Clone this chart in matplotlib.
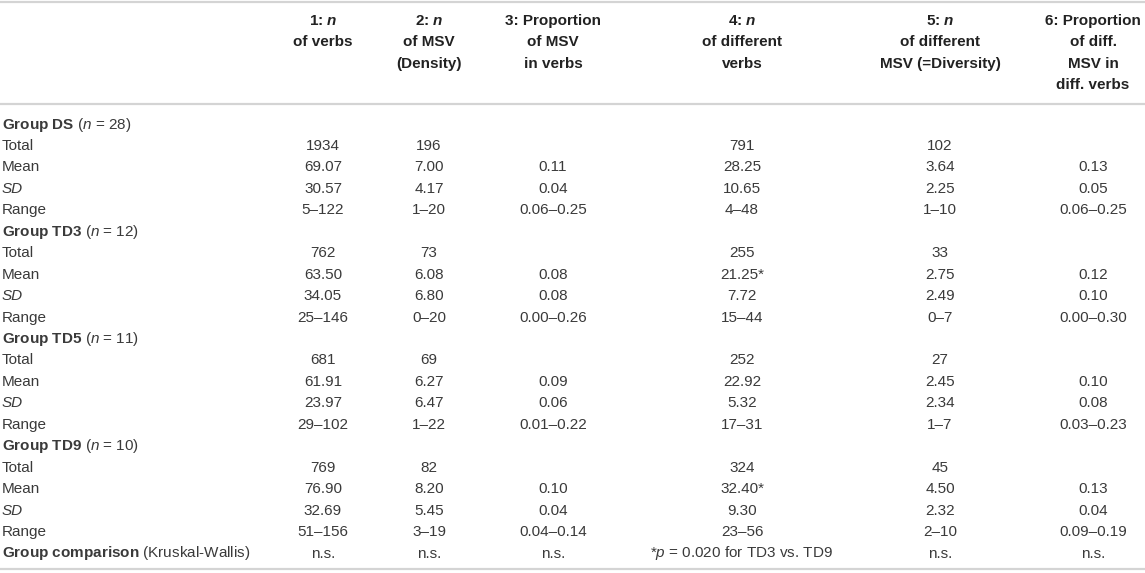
#table of verb / MSV counts per group, redrawn as a figure

import matplotlib.pyplot as plt

plt.rcParams['font.family'] = ['Liberation Sans', 'DejaVu Sans']
plt.rcParams['mathtext.fontset'] = 'custom'
plt.rcParams['mathtext.rm'] = 'Liberation Sans'
plt.rcParams['mathtext.it'] = 'Liberation Sans:italic'
plt.rcParams['mathtext.bf'] = 'Liberation Sans:bold'
plt.rcParams['mathtext.sf'] = 'Liberation Sans:bold:italic'   # used for bold italic n in the header

#column headers, one list of lines per column
headers = [
    [r'1: $\mathsf{n}$', 'of verbs'],
    [r'2: $\mathsf{n}$', 'of MSV', '(Density)'],
    ['3: Proportion', 'of MSV', 'in verbs'],
    [r'4: $\mathsf{n}$', 'of different', 'verbs'],
    [r'5: $\mathsf{n}$', 'of different', 'MSV (=Diversity)'],
    ['6: Proportion', 'of diff.', 'MSV in', 'diff. verbs'],
]

groups      = ['DS', 'TD3', 'TD5', 'TD9']
group_n     = [28, 12, 11, 10]
stat_labels = ['Total', 'Mean', 'SD', 'Range']

#values per column, 4 stats for each of the 4 groups
col1 = ['1934', '69.07', '30.57', '5–122',  '762', '63.50', '34.05', '25–146',
        '681', '61.91', '23.97', '29–102',  '769', '76.90', '32.69', '51–156']
col2 = ['196', '7.00', '4.17', '1–20',  '73', '6.08', '6.80', '0–20',
        '69', '6.27', '6.47', '1–22',  '82', '8.20', '5.45', '3–19']
col3 = ['', '0.11', '0.04', '0.06–0.25',  '', '0.08', '0.08', '0.00–0.26',
        '', '0.09', '0.06', '0.01–0.22',  '', '0.10', '0.04', '0.04–0.14']
col4 = ['791', '28.25', '10.65', '4–48',  '255', '21.25*', '7.72', '15–44',
        '252', '22.92', '5.32', '17–31',  '324', '32.40*', '9.30', '23–56']
col5 = ['102', '3.64', '2.25', '1–10',  '33', '2.75', '2.49', '0–7',
        '27', '2.45', '2.34', '1–7',  '45', '4.50', '2.32', '2–10']
col6 = ['', '0.13', '0.05', '0.06–0.25',  '', '0.12', '0.10', '0.00–0.30',
        '', '0.10', '0.08', '0.03–0.23',  '', '0.13', '0.04', '0.09–0.19']
columns = [col1, col2, col3, col4, col5, col6]

comparison_label = r'$\mathbf{Group\ comparison}$ (Kruskal-Wallis)'
comparison = ['n.s.', 'n.s.', 'n.s.', r'*$p$ = 0.020 for TD3 vs. TD9', 'n.s.', 'n.s.']

#layout (pixel coordinates of the 1145x573 image)
col_x      = [323, 429, 553, 742, 940, 1093]
header_y   = 21
line_h     = 21.45
row0_y     = 124.5
rule_color = '#d4d4d4'
txt_color  = '#3a3a3a'
fs         = 11

fig = plt.figure(figsize=(11.45, 5.73), dpi=100)
ax = fig.add_axes([0, 0, 1, 1])
ax.set_xlim(0, 1145)
ax.set_ylim(573, 0)
ax.axis('off')

#rules
for y in [1.5, 103.5, 568.5]:
    ax.axhline(y, color=rule_color, lw=1.6)

#header
for x, lines in zip(col_x, headers):
    for k, line in enumerate(lines):
        ax.text(x, header_y + k * line_h, line, ha='center', va='center',
                fontsize=fs, fontweight='bold', color='#222222')

#body
row = 0
for g in range(len(groups)):
    y = row0_y + row * line_h
    ax.text(2, y, r'$\mathbf{Group\ %s}$ ($n$ = %d)' % (groups[g], group_n[g]),
            ha='left', va='center', fontsize=fs, color=txt_color)
    row += 1
    for s in range(len(stat_labels)):
        y = row0_y + row * line_h
        ax.text(2, y, stat_labels[s], ha='left', va='center', fontsize=fs, color=txt_color,
                fontstyle='italic' if stat_labels[s] == 'SD' else 'normal')
        for x, col in zip(col_x, columns):
            ax.text(x, y, col[g * 4 + s], ha='center', va='center', fontsize=fs, color=txt_color)
        row += 1

y = row0_y + row * line_h
ax.text(2, y, comparison_label, ha='left', va='center', fontsize=fs, color=txt_color)
for x, val in zip(col_x, comparison):
    ax.text(x, y, val, ha='center', va='center', fontsize=fs, color=txt_color)

fig.savefig('out.png', dpi=100)
